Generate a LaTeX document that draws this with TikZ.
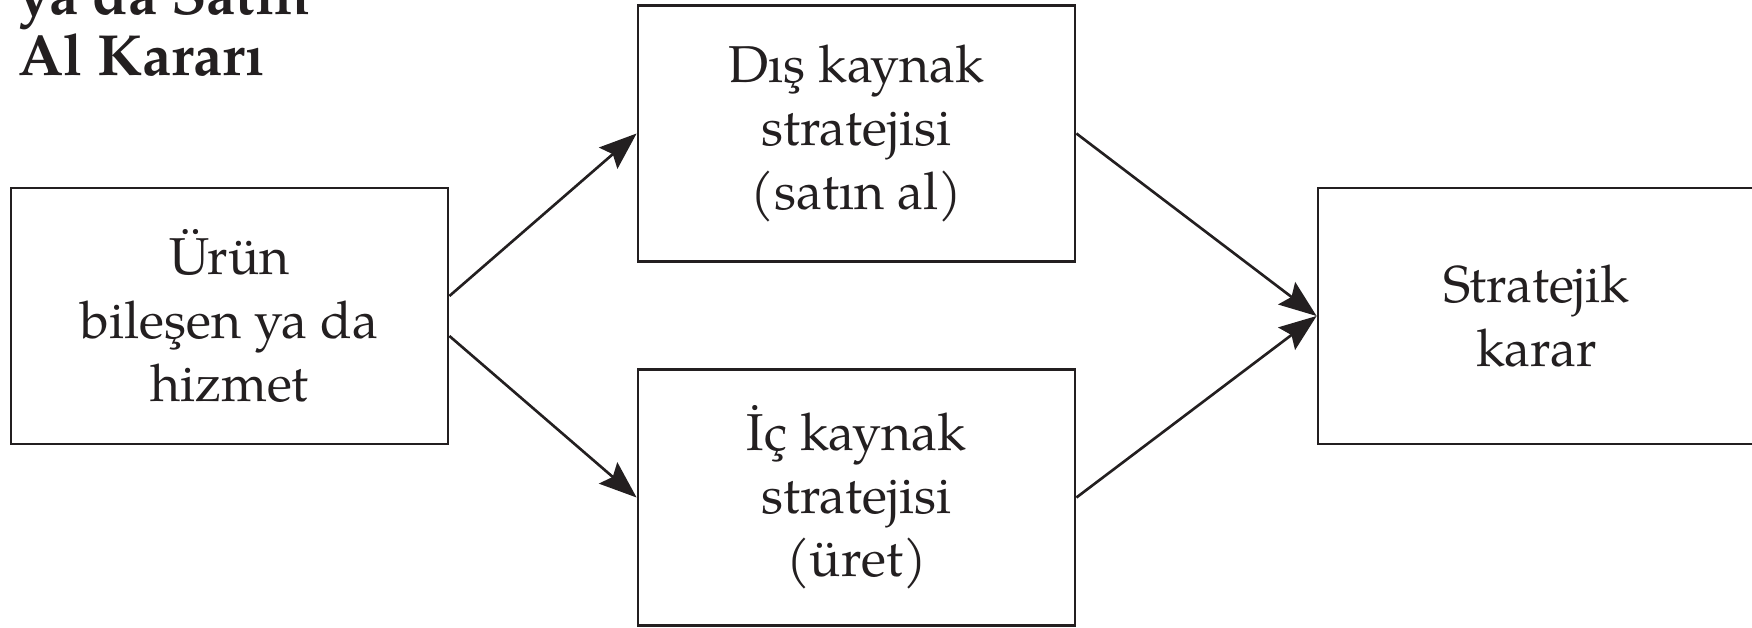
\documentclass[tikz,border=0pt]{standalone}
\usepackage{fontspec}
\setmainfont{texgyrepagella}[Extension=.otf, UprightFont=*-regular, BoldFont=*-bold, ItalicFont=*-italic, BoldItalicFont=*-bolditalic]
\usetikzlibrary{arrows.meta}

\definecolor{ink}{RGB}{35,31,32}

\tikzset{
  box/.style={draw=ink, line width=1.6pt, minimum width=8.74cm, minimum height=5.12cm,
    inner sep=0pt, align=center, text=ink, font=\fontsize{29.5}{36}\selectfont},
  flow/.style={draw=ink, line width=1.5pt, -{Stealth[length=0.75cm, width=0.56cm, inset=0.12cm]}},
  title/.style={anchor=base west, inner sep=0pt, text=ink, font=\bfseries\fontsize{33}{38}\selectfont}
}

\begin{document}
\begin{tikzpicture}
    \useasboundingbox (0,0) rectangle (35.04,-12.56);

    % TITLE (cut off at the top edge)
    \node[title] (title1) at (0.36,-0.30) {ya da Satın};
    \node[title] (title2) at (0.36,-1.52) {Al Kararı};

    % BOXES
    \node[box] (urun) at (4.59,-6.32) {Ürün\\bileşen ya da\\hizmet};
    \node[box] (dis) at (17.13,-2.67) {Dış kaynak\\stratejisi\\(satın al)};
    \node[box] (ic) at (17.13,-9.95) {İç kaynak\\stratejisi\\(üret)};
    \node[box] (karar) at (30.73,-6.32) {Stratejik\\karar}; % runs past the right edge

    % ARROWS
    \draw[flow] ([yshift=0.4cm]urun.east) -- (dis.west);
    \draw[flow] ([yshift=-0.4cm]urun.east) -- (ic.west);
    \draw[flow] (dis.east) -- (karar.west);
    \draw[flow] (ic.east) -- (karar.west);

\end{tikzpicture}
\end{document}
